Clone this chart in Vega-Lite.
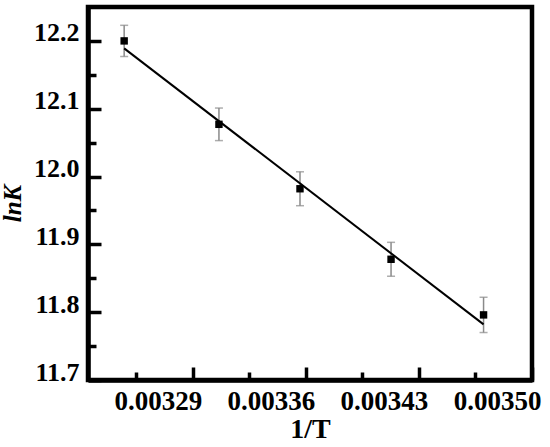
{
  "$schema": "https://vega.github.io/schema/vega-lite/v6.json",
  "width": 444,
  "height": 373,
  "autosize": "none",
  "padding": {"left": 88, "top": 7, "right": 18, "bottom": 67},
  "background": "white",
  "config": {
    "view": {"stroke": "black", "strokeWidth": 4.5},
    "axis": {
      "grid": false,
      "domainColor": "black",
      "domainWidth": 4.5,
      "tickColor": "black",
      "tickWidth": 3.5,
      "labelFont": "Liberation Serif",
      "labelFontWeight": "bold",
      "labelColor": "black",
      "labelOverlap": false,
      "labelFlush": false,
      "titleFont": "Liberation Serif",
      "titleFontWeight": "bold",
      "titleColor": "black"
    }
  },
  "datasets": {
    "pts": [
      {"invT": 0.0032474, "lnK": 12.200, "err": 0.023},
      {"invT": 0.0033061, "lnK": 12.077, "err": 0.024},
      {"invT": 0.0033563, "lnK": 11.982, "err": 0.025},
      {"invT": 0.0034127, "lnK": 11.878, "err": 0.025},
      {"invT": 0.0034700, "lnK": 11.796, "err": 0.026}
    ],
    "fit": [
      {"invT": 0.0032474, "lnK": 12.189},
      {"invT": 0.0034700, "lnK": 11.782}
    ]
  },
  "resolve": {"axis": {"x": "independent", "y": "independent"}},
  "layer": [
    {
      "data": {"name": "pts"},
      "mark": {"type": "errorbar", "color": "#8a8a8a", "thickness": 1.5, "ticks": {"size": 8, "thickness": 1.5, "color": "#8a8a8a"}},
      "encoding": {
        "x": {"field": "invT", "type": "quantitative",
          "scale": {"domain": [0.003225, 0.0035], "nice": false, "zero": false},
          "axis": {"orient": "bottom", "values": [0.00329, 0.00336, 0.00343, 0.0035], "format": ".5f",
            "tickSize": -13, "labelOffset": -35, "labelFontSize": 27, "labelPadding": 21,
            "title": "1/T", "titleFontSize": 28, "titlePadding": 1}},
        "y": {"field": "lnK", "type": "quantitative",
          "scale": {"domain": [11.7, 12.25], "nice": false, "zero": false},
          "axis": {"orient": "left", "values": [11.7, 11.8, 11.9, 12.0, 12.1, 12.2], "format": ".1f",
            "tickSize": -13, "labelFontSize": 26, "labelBaseline": "alphabetic", "labelPadding": 22,
            "title": "lnK", "titleFontStyle": "italic", "titleFontSize": 25, "titlePadding": 8, "titleY": 196}},
        "yError": {"field": "err"}
      }
    },
    {
      "data": {"name": "fit"},
      "mark": {"type": "line", "color": "black", "strokeWidth": 2},
      "encoding": {
        "x": {"field": "invT", "type": "quantitative",
          "axis": {"orient": "bottom", "values": [0.003255, 0.003325, 0.003395, 0.003465], "tickSize": -8, "labels": false, "domain": false, "title": null}},
        "y": {"field": "lnK", "type": "quantitative",
          "axis": {"orient": "left", "values": [11.75, 11.85, 11.95, 12.05, 12.15], "tickSize": -8, "labels": false, "domain": false, "title": null}}
      }
    },
    {
      "data": {"name": "pts"},
      "mark": {"type": "point", "shape": "square", "filled": true, "color": "black", "size": 55, "opacity": 1},
      "encoding": {
        "x": {"field": "invT", "type": "quantitative", "axis": null},
        "y": {"field": "lnK", "type": "quantitative", "axis": null}
      }
    }
  ]
}
